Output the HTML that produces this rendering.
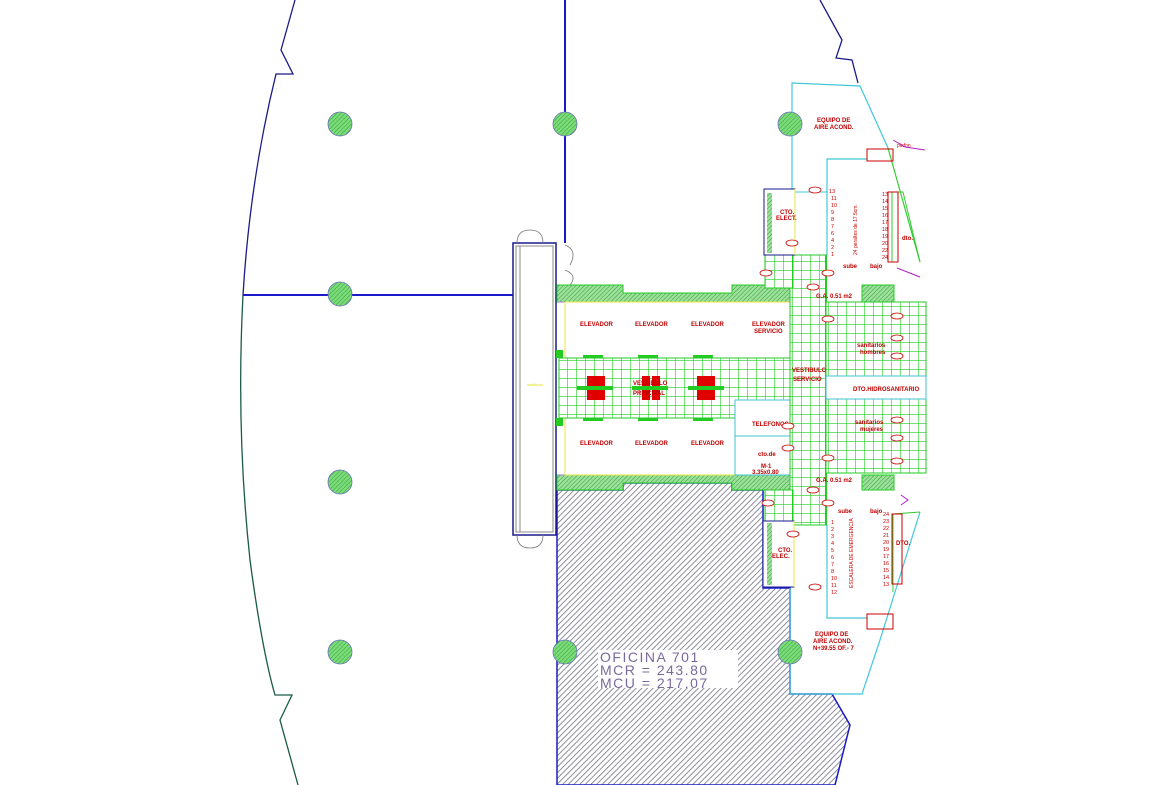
<!DOCTYPE html>
<html><head><meta charset="utf-8"><style>
html,body{margin:0;padding:0;background:#fff;width:1170px;height:785px;overflow:hidden}
svg{display:block}
text{font-family:"Liberation Sans",sans-serif}
.r{fill:#c00000;font-size:6px;font-weight:bold}
</style></head><body>
<svg width="1170" height="785" viewBox="0 0 1170 785" xmlns="http://www.w3.org/2000/svg">
<defs>
<pattern id="hatch" width="4" height="4" patternUnits="userSpaceOnUse" patternTransform="rotate(45)">
<rect width="4" height="4" fill="#fff"/><line x1="0" y1="0" x2="0" y2="4" stroke="#7a7a90" stroke-width="1.7"/></pattern>
<pattern id="ghatch" width="3" height="3" patternUnits="userSpaceOnUse" patternTransform="rotate(45)">
<rect width="3" height="3" fill="#9fe09f"/><line x1="0" y1="0" x2="0" y2="3" stroke="#2aa02a" stroke-width="1"/></pattern>
<pattern id="grid" width="9" height="9" patternUnits="userSpaceOnUse">
<rect width="9" height="9" fill="#fff"/><path d="M0 0H9M0 0V9" stroke="#22cc22" stroke-width="1.2"/></pattern>
<pattern id="col" width="3" height="3" patternUnits="userSpaceOnUse" patternTransform="rotate(45)">
<rect width="3" height="3" fill="#7cdc7c"/><line x1="0" y1="0" x2="0" y2="3" stroke="#2fa02f" stroke-width="1"/></pattern>
</defs>

<path d="M295 0 L281 50 L293 74 L276 74 Q250 180 243 295" fill="none" stroke="#1a1a8a" stroke-width="1.3"/>
<path d="M243 295 Q236 430 250 560 Q262 650 275 695 L292 695 L280 720 L298 785" fill="none" stroke="#1a5a4a" stroke-width="1.3"/>
<path d="M820 0 L842 40 L836 58 L852 60 L858 83" fill="none" stroke="#1a1a8a" stroke-width="1.3"/>

<line x1="565" y1="0" x2="565" y2="243" stroke="#1a1acc" stroke-width="2"/>
<line x1="243" y1="295" x2="513" y2="295" stroke="#1a1acc" stroke-width="2"/>

<path d="M557 490 L623 490 L623 483 L732 483 L732 490 L763 490 L763 588 L790 588 L790 694 L832 694 L850 725 L835 785 L557 785 Z" fill="url(#hatch)" stroke="#1a1acc" stroke-width="1.5"/>
<rect x="598" y="650" width="140" height="38" fill="#fff"/>
<text x="600" y="662" font-size="14" fill="#7a6a9a" letter-spacing="1.5">OFICINA 701</text>
<text x="600" y="675" font-size="14" fill="#7a6a9a" letter-spacing="1.5">MCR = 243.80</text>
<text x="600" y="688" font-size="14" fill="#7a6a9a" letter-spacing="1.5">MCU = 217.07</text>

<rect x="513" y="243" width="43" height="292" fill="#fff" stroke="#1a1a8a" stroke-width="1.5"/>
<rect x="516" y="246" width="37" height="286" fill="none" stroke="#888" stroke-width="1"/>
<line x1="520" y1="246" x2="520" y2="532" stroke="#888"/>
<text x="527" y="386" font-size="4" fill="#dd0">vestibulo</text>
<path d="M517 243 Q517 230 530 230 M543 243 Q543 230 530 230 M565 245 Q578 250 570 265 M565 270 Q578 275 570 285" fill="none" stroke="#777" stroke-width="0.8"/>
<path d="M517 535 Q517 548 530 548 M543 535 Q543 548 530 548" fill="none" stroke="#777" stroke-width="0.8"/>

<path d="M557 285 L623 285 L623 293 L732 293 L732 285 L800 285 L800 302 L557 302 Z" fill="url(#ghatch)" stroke="#2c2"/>
<path d="M557 475 L800 475 L800 490 L763 490 L732 490 L732 483 L623 483 L623 490 L557 490 Z" fill="url(#ghatch)" stroke="#2c2"/>
<line x1="557" y1="302" x2="790" y2="302" stroke="#a080d0"/>
<line x1="557" y1="475" x2="790" y2="475" stroke="#a080d0"/>
<rect x="565" y="302" width="225" height="173" fill="#fff" stroke="#e8e840"/>
<line x1="565" y1="358" x2="790" y2="358" stroke="#e8e840"/>
<line x1="565" y1="418" x2="735" y2="418" stroke="#e8e840"/>

<rect x="559" y="358" width="235" height="60" fill="url(#grid)" stroke="#2c2"/>
<rect x="556" y="350" width="7" height="8" fill="#2c2"/><rect x="556" y="418" width="7" height="8" fill="#2c2"/>
<g fill="#2c2"><rect x="583" y="355" width="20" height="3"/><rect x="638" y="355" width="20" height="3"/><rect x="693" y="355" width="20" height="3"/>
<rect x="583" y="418" width="20" height="3"/><rect x="638" y="418" width="20" height="3"/><rect x="693" y="418" width="20" height="3"/>
<rect x="577" y="386" width="36" height="4"/><rect x="632" y="386" width="36" height="4"/><rect x="688" y="386" width="36" height="4"/></g>
<g fill="#e00000"><rect x="587" y="376" width="18" height="10"/><rect x="587" y="390" width="18" height="10"/>
<rect x="642" y="376" width="8" height="10"/><rect x="652" y="376" width="8" height="10"/><rect x="642" y="390" width="8" height="10"/><rect x="652" y="390" width="8" height="10"/>
<rect x="697" y="376" width="18" height="10"/><rect x="697" y="390" width="18" height="10"/></g>
<text class="r" x="580" y="326">ELEVADOR</text><text class="r" x="635" y="326">ELEVADOR</text><text class="r" x="691" y="326">ELEVADOR</text>
<text class="r" x="752" y="326">ELEVADOR</text><text class="r" x="754" y="333">SERVICIO</text>
<text class="r" x="580" y="445">ELEVADOR</text><text class="r" x="635" y="445">ELEVADOR</text><text class="r" x="691" y="445">ELEVADOR</text>
<text class="r" x="633" y="385">VESTIBULO</text><text class="r" x="633" y="395">PRINCIPAL</text>

<rect x="735" y="400" width="55" height="75" fill="#fff" stroke="#40c0d0"/>
<line x1="735" y1="436" x2="790" y2="436" stroke="#40c0d0"/>
<text class="r" x="752" y="426">TELEFONOS</text>
<text class="r" x="758" y="456">cto.de</text><text class="r" x="761" y="468">M-1</text><text class="r" x="752" y="474">3.35x0.80</text>

<rect x="790" y="255" width="36" height="270" fill="url(#grid)" stroke="#2c2"/>
<rect x="765" y="255" width="28" height="33" fill="url(#grid)" stroke="#2c2"/>
<rect x="765" y="490" width="28" height="32" fill="url(#grid)" stroke="#2c2"/>
<line x1="826" y1="255" x2="826" y2="525" stroke="#2c2" stroke-width="2"/>
<text class="r" x="792" y="372">VESTIBULO</text><text class="r" x="793" y="381">SERVICIO</text>

<rect x="826" y="302" width="100" height="74" fill="url(#grid)" stroke="#2c2"/>
<rect x="826" y="399" width="100" height="74" fill="url(#grid)" stroke="#2c2"/>
<rect x="826" y="376" width="100" height="23" fill="#fff" stroke="#40c0d0"/>
<text class="r" x="853" y="391">DTO.HIDROSANITARIO</text>
<text class="r" x="857" y="347">sanitarios</text><text class="r" x="860" y="354">hombres</text>
<text class="r" x="855" y="424">sanitarios</text><text class="r" x="860" y="431">mujeres</text>
<rect x="862" y="285" width="32" height="17" fill="url(#ghatch)" stroke="#2c2"/>
<rect x="862" y="475" width="32" height="15" fill="url(#ghatch)" stroke="#2c2"/>
<text class="r" x="816" y="298">G.A. 0.51 m2</text><text class="r" x="816" y="482">G.A. 0.51 m2</text>

<path d="M792 192 L792 83 L860 86 L888 148" fill="none" stroke="#40c8d8" stroke-width="1.2"/>
<path d="M888 148 L920 262" fill="none" stroke="#3c3" stroke-width="1.2"/>
<path d="M827 255 L827 159 L867 159" fill="none" stroke="#40c8d8" stroke-width="1.2"/>
<line x1="792" y1="192" x2="827" y2="192" stroke="#40c8d8"/>
<rect x="867" y="149" width="26" height="12" fill="none" stroke="#c00"/>
<text class="r" x="817" y="122">EQUIPO DE</text><text class="r" x="814" y="129">AIRE ACOND.</text>
<text x="897" y="147" font-size="5" fill="#c00">plafon</text>
<path d="M893 140 L905 147 L925 150" fill="none" stroke="#b020c0"/>
<rect x="764" y="189" width="31" height="66" fill="#fff" stroke="#1a1a8a"/>
<line x1="795" y1="189" x2="795" y2="255" stroke="#e8e840"/>
<rect x="767" y="193" width="5" height="60" fill="url(#ghatch)"/>
<text class="r" x="780" y="214">CTO.</text><text class="r" x="776" y="220">ELECT.</text>
<path d="M892 262 L892 192 L903 192 L920 262" fill="none" stroke="#3c3"/>
<rect x="888" y="192" width="10" height="70" fill="none" stroke="#c00"/>
<text class="r" x="902" y="240">dto.</text>
<text class="r" x="843" y="268">sube</text><text class="r" x="870" y="268">bajo</text>
<text x="829" y="193" font-size="5.5" fill="#c00">13</text>
<g font-size="5.5" fill="#c00"><text x="831" y="200">11</text><text x="831" y="207">10</text><text x="831" y="214">9</text><text x="831" y="221">8</text><text x="831" y="228">7</text><text x="831" y="235">6</text><text x="831" y="242">4</text><text x="831" y="249">2</text><text x="831" y="256">1</text>
<text x="882" y="196">13</text><text x="882" y="203">14</text><text x="882" y="210">15</text><text x="882" y="217">16</text><text x="882" y="224">17</text><text x="882" y="231">18</text><text x="882" y="238">19</text><text x="882" y="245">20</text><text x="882" y="252">22</text><text x="882" y="259">24</text></g>
<text x="0" y="0" font-size="5" fill="#c00" transform="translate(857,255) rotate(-90)">24 peraltes de 17.5cm.</text>
<path d="M897 268 L920 277" stroke="#b020c0"/>

<path d="M790 588 L790 694 L832 694 L862 694 L880 640 L920 512" fill="none" stroke="#40c8d8" stroke-width="1.2"/>
<path d="M920 512 L893 514 L893 592" fill="none" stroke="#3c3"/>
<path d="M827 525 L827 618 L867 618" fill="none" stroke="#40c8d8" stroke-width="1.2"/>
<rect x="867" y="614" width="26" height="15" fill="none" stroke="#c00"/>
<rect x="763" y="521" width="31" height="66" fill="#fff" stroke="#1a1a8a"/>
<line x1="794" y1="521" x2="794" y2="587" stroke="#e8e840"/>
<rect x="767" y="523" width="5" height="62" fill="url(#ghatch)"/>
<text class="r" x="778" y="552">CTO.</text><text class="r" x="772" y="558">ELEC.</text>
<rect x="892" y="514" width="10" height="70" fill="none" stroke="#c00"/>
<text class="r" x="896" y="545">DTO.</text>
<text class="r" x="838" y="513">sube</text><text class="r" x="870" y="513">bajo</text>
<g font-size="5.5" fill="#c00"><text x="831" y="524">1</text><text x="831" y="531">2</text><text x="831" y="538">3</text><text x="831" y="545">4</text><text x="831" y="552">5</text><text x="831" y="559">6</text><text x="831" y="566">7</text><text x="831" y="573">8</text><text x="831" y="580">10</text><text x="831" y="587">11</text><text x="831" y="594">12</text>
<text x="883" y="516">24</text><text x="883" y="523">23</text><text x="883" y="530">22</text><text x="883" y="537">21</text><text x="883" y="544">20</text><text x="883" y="551">19</text><text x="883" y="558">17</text><text x="883" y="565">16</text><text x="883" y="572">15</text><text x="883" y="579">14</text><text x="883" y="586">13</text></g>
<text x="0" y="0" font-size="5" fill="#c00" transform="translate(853,588) rotate(-90)">ESCALERA DE EMERGENCIA</text>
<text class="r" x="815" y="636">EQUIPO DE</text><text class="r" x="813" y="643">AIRE ACOND.</text><text class="r" x="813" y="650">N+39.55  OF.- 7</text>
<path d="M901 495 L908 500 L901 505" fill="none" stroke="#b020c0"/>

<g fill="#fff" stroke="#c00" stroke-width="0.8">
<ellipse cx="815" cy="190" rx="6" ry="3"/><ellipse cx="792" cy="243" rx="6" ry="3"/><ellipse cx="766" cy="273" rx="6" ry="3"/><ellipse cx="828" cy="273" rx="6" ry="3"/><ellipse cx="813" cy="287" rx="6" ry="3"/><ellipse cx="828" cy="319" rx="6" ry="3"/>
<ellipse cx="897" cy="316" rx="6" ry="3"/><ellipse cx="897" cy="338" rx="6" ry="3"/><ellipse cx="897" cy="356" rx="6" ry="3"/><ellipse cx="897" cy="420" rx="6" ry="3"/><ellipse cx="897" cy="438" rx="6" ry="3"/><ellipse cx="897" cy="461" rx="6" ry="3"/>
<ellipse cx="788" cy="426" rx="6" ry="3"/><ellipse cx="788" cy="448" rx="6" ry="3"/><ellipse cx="828" cy="458" rx="6" ry="3"/><ellipse cx="813" cy="490" rx="6" ry="3"/><ellipse cx="768" cy="503" rx="6" ry="3"/><ellipse cx="828" cy="503" rx="6" ry="3"/><ellipse cx="793" cy="534" rx="6" ry="3"/><ellipse cx="815" cy="587" rx="6" ry="3"/></g>

<g fill="url(#col)" stroke="#7070c0" stroke-width="0.8">
<circle cx="340" cy="124" r="12"/><circle cx="565" cy="124" r="12"/><circle cx="790" cy="124" r="12"/>
<circle cx="340" cy="294" r="12"/><circle cx="340" cy="482" r="12"/><circle cx="340" cy="652" r="12"/>
<circle cx="565" cy="652" r="12"/><circle cx="790" cy="652" r="12"/></g>
</svg>
</body></html>
